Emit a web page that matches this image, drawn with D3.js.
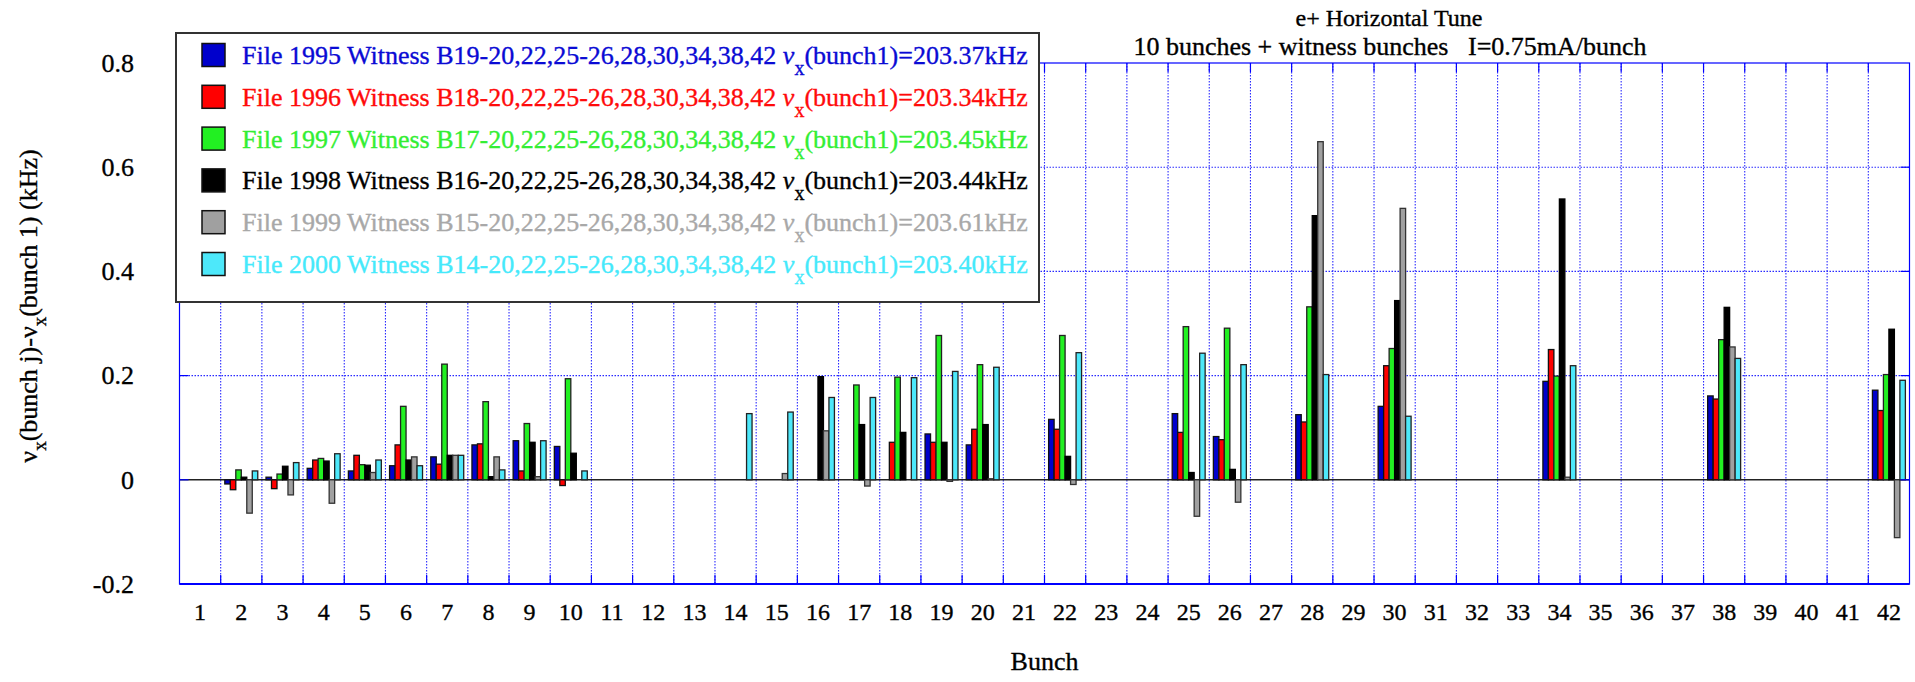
<!DOCTYPE html>
<html>
<head>
<meta charset="utf-8">
<script src="https://cdn.jsdelivr.net/npm/d3@7"></script>
<style>
  html, body { margin: 0; padding: 0; background: #fff; }
  svg { display: block; }
  text { font-family: "Liberation Serif", "Times New Roman", serif; stroke-width: 0.35px; paint-order: stroke; }
</style>
</head>
<body>
<svg id="chart" width="1915" height="682"></svg>
<script>
// Bunch numbers along the ring (bunch 1 is the reference bunch)
const bunches = d3.range(1, 43);

// Tune shift of each bunch relative to bunch 1 (kHz), one array per file; missing = not measured
const file1995 = {2:-0.008,3:0.005,4:0.022,5:0.017,6:0.027,7:0.044,8:0.067,9:0.075,10:0.064,
  19:0.088,20:0.067,22:0.116,25:0.127,26:0.083,28:0.125,30:0.141,34:0.189,38:0.161,42:0.172};
const file1996 = {2:-0.019,3:-0.017,4:0.038,5:0.047,6:0.067,7:0.030,8:0.069,9:0.017,10:-0.011,
  18:0.072,19:0.072,20:0.097,22:0.097,25:0.091,26:0.077,28:0.111,30:0.219,34:0.250,38:0.155,42:0.133};
const file1997 = {2:0.019,3:0.011,4:0.041,5:0.029,6:0.141,7:0.222,8:0.150,9:0.108,10:0.194,
  17:0.182,18:0.197,19:0.277,20:0.221,22:0.277,25:0.294,26:0.291,28:0.332,30:0.252,34:0.199,38:0.269,42:0.202};
const file1998 = {2:0.005,3:0.026,4:0.036,5:0.028,6:0.038,7:0.047,8:0.006,9:0.072,10:0.051,
  16:0.198,17:0.106,18:0.091,19:0.072,20:0.106,22:0.045,25:0.014,26:0.020,28:0.507,30:0.344,34:0.539,38:0.331,42:0.289};
const file1999 = {2:-0.064,3:-0.029,4:-0.045,5:0.014,6:0.044,7:0.047,8:0.044,9:0.006,10:0,
  15:0.012,16:0.094,17:-0.012,18:0,19:-0.003,20:0.002,22:-0.009,25:-0.070,26:-0.043,28:0.649,30:0.521,34:0.005,38:0.255,42:-0.111};
const file2000 = {2:0.017,3:0.033,4:0.050,5:0.038,6:0.027,7:0.047,8:0.019,9:0.075,10:0.017,
  14:0.127,15:0.130,16:0.158,17:0.158,18:0.196,19:0.208,20:0.216,22:0.244,25:0.243,26:0.221,28:0.202,30:0.122,34:0.219,38:0.233,42:0.191};

const seriesValues = [file1995, file1996, file1997, file1998, file1999, file2000];
const seriesLabels = [
  ["File 1995 Witness B19-20,22,25-26,28,30,34,38,42 ", "(bunch1)=203.37kHz"],
  ["File 1996 Witness B18-20,22,25-26,28,30,34,38,42 ", "(bunch1)=203.34kHz"],
  ["File 1997 Witness B17-20,22,25-26,28,30,34,38,42 ", "(bunch1)=203.45kHz"],
  ["File 1998 Witness B16-20,22,25-26,28,30,34,38,42 ", "(bunch1)=203.44kHz"],
  ["File 1999 Witness B15-20,22,25-26,28,30,34,38,42 ", "(bunch1)=203.61kHz"],
  ["File 2000 Witness B14-20,22,25-26,28,30,34,38,42 ", "(bunch1)=203.40kHz"]
];
const fillColors = ["#0000cc", "#ff0000", "#22f022", "#000000", "#a0a0a0", "#4de8fa"];
const textColors = ["#0a0ad4", "#ff0a0a", "#33ee33", "#000000", "#a8a8a8", "#45e9fb"];
const strokeColors = ["#111", "#111", "#222", "#000", "#333", "#222"];

const yTicks = [-0.2, 0, 0.2, 0.4, 0.6, 0.8];
const yTickLabels = ["-0.2", "0", "0.2", "0.4", "0.6", "0.8"];
const titleLines = ["e+ Horizontal Tune", "10 bunches + witness bunches   I=0.75mA/bunch"];

// Layout
const plot = { left: 179.5, right: 1909.5, top: 63, bottom: 584 };
const svg = d3.select("#chart");
const gridColor = "#2a2aff";
const axisColor = "#0000ff";

const x = d3.scaleBand().domain(bunches).range([plot.left, plot.right]).paddingInner(0).paddingOuter(0);
const y = d3.scaleLinear().domain([-0.2, 0.8]).range([plot.bottom, plot.top]);
const groupW = x.bandwidth() * 0.8;
const barW = groupW / seriesValues.length;
const groupOff = (x.bandwidth() - groupW) / 2;

// Grid: vertical dotted lines at bunch boundaries, horizontal at interior y ticks
const grid = svg.append("g");
grid.selectAll("line.vg").data(bunches.slice(1)).join("line")
  .attr("x1", d => x(d)).attr("x2", d => x(d))
  .attr("y1", plot.top).attr("y2", plot.bottom)
  .attr("stroke", gridColor).attr("stroke-width", 1.1).attr("stroke-dasharray", "1.5,1.5");
grid.selectAll("line.hg").data(yTicks.filter(v => v > -0.2 && v < 0.8 && v !== 0)).join("line")
  .attr("x1", plot.left).attr("x2", plot.right)
  .attr("y1", d => y(d)).attr("y2", d => y(d))
  .attr("stroke", gridColor).attr("stroke-width", 1.1).attr("stroke-dasharray", "1.5,1.5");

// Zero line
svg.append("line")
  .attr("x1", plot.left).attr("x2", plot.right)
  .attr("y1", y(0)).attr("y2", y(0))
  .attr("stroke", "#222").attr("stroke-width", 1.6);

// Bars
const bars = svg.append("g");
seriesValues.forEach((vals, k) => {
  const pts = bunches.filter(b => vals[b] !== undefined && vals[b] !== null && vals[b] !== 0)
    .map(b => ({ b, v: vals[b] }));
  bars.selectAll("rect.s" + k).data(pts).join("rect")
    .attr("x", d => x(d.b) + groupOff + k * barW)
    .attr("width", barW)
    .attr("y", d => Math.min(y(d.v), y(0)))
    .attr("height", d => Math.abs(y(d.v) - y(0)))
    .attr("fill", fillColors[k])
    .attr("stroke", strokeColors[k])
    .attr("stroke-width", 1.3);
});

// Frame and inward ticks
const frame = svg.append("g");
frame.append("rect")
  .attr("x", plot.left).attr("y", plot.top)
  .attr("width", plot.right - plot.left).attr("height", plot.bottom - plot.top)
  .attr("fill", "none").attr("stroke", axisColor).attr("stroke-width", 1.2);
frame.append("line")
  .attr("x1", plot.left).attr("x2", plot.right)
  .attr("y1", plot.bottom).attr("y2", plot.bottom)
  .attr("stroke", axisColor).attr("stroke-width", 2);
const tickLen = 9;
frame.selectAll("line.bt").data(bunches.slice(1)).join("line")
  .attr("x1", d => x(d)).attr("x2", d => x(d))
  .attr("y1", plot.bottom).attr("y2", plot.bottom - tickLen)
  .attr("stroke", axisColor).attr("stroke-width", 1.2);
frame.selectAll("line.tt").data(bunches.slice(1)).join("line")
  .attr("x1", d => x(d)).attr("x2", d => x(d))
  .attr("y1", plot.top).attr("y2", plot.top + tickLen)
  .attr("stroke", axisColor).attr("stroke-width", 1.2);
frame.selectAll("line.lt").data(yTicks.slice(1, -1)).join("line")
  .attr("x1", plot.left).attr("x2", plot.left + tickLen)
  .attr("y1", d => y(d)).attr("y2", d => y(d))
  .attr("stroke", axisColor).attr("stroke-width", 1.2);
frame.selectAll("line.rt").data(yTicks.slice(1, -1)).join("line")
  .attr("x1", plot.right).attr("x2", plot.right - tickLen)
  .attr("y1", d => y(d)).attr("y2", d => y(d))
  .attr("stroke", axisColor).attr("stroke-width", 1.2);

// Tick labels
svg.append("g").selectAll("text").data(yTicks).join("text")
  .attr("x", 134).attr("y", d => y(d)).attr("dy", "0.34em")
  .attr("text-anchor", "end").attr("font-size", 26).attr("fill", "#000").attr("stroke", "#000")
  .text((d, i) => yTickLabels[i]);
svg.append("g").selectAll("text").data(bunches).join("text")
  .attr("x", d => x(d) + x.bandwidth() / 2).attr("y", 620)
  .attr("text-anchor", "middle").attr("font-size", 24).attr("fill", "#000").attr("stroke", "#000")
  .text(d => d);

// Axis titles
svg.append("text").attr("x", (plot.left + plot.right) / 2).attr("y", 670)
  .attr("text-anchor", "middle").attr("font-size", 26).attr("stroke", "#000").text("Bunch");

const yl = svg.append("text")
  .attr("transform", "translate(37,306) rotate(-90)")
  .attr("text-anchor", "middle").attr("font-size", 26).attr("stroke", "#000");
yl.append("tspan").text("ν");
yl.append("tspan").attr("font-size", 19).attr("dy", 9).text("x");
yl.append("tspan").attr("dy", -9).text("(bunch j)-ν");
yl.append("tspan").attr("font-size", 19).attr("dy", 9).text("x");
yl.append("tspan").attr("dy", -9).text("(bunch 1) (kHz)");

// Title
svg.append("text").attr("x", 1389).attr("y", 26).attr("text-anchor", "middle")
  .attr("font-size", 24).attr("stroke", "#000").text(titleLines[0]);
svg.append("text").attr("x", 1390).attr("y", 55).attr("text-anchor", "middle")
  .attr("font-size", 26).attr("stroke", "#000").style("white-space", "pre").text(titleLines[1]);

// Legend
const lg = svg.append("g");
lg.append("rect").attr("x", 176).attr("y", 33).attr("width", 863).attr("height", 269)
  .attr("fill", "#fff").attr("stroke", "#333").attr("stroke-width", 2);
seriesLabels.forEach((lab, k) => {
  const cy = 55 + k * 41.8;
  lg.append("rect").attr("x", 202).attr("y", cy - 11.5).attr("width", 23).attr("height", 23)
    .attr("fill", fillColors[k]).attr("stroke", "#111").attr("stroke-width", 1.5);
  const t = lg.append("text").attr("x", 242).attr("y", cy + 9)
    .attr("font-size", 26).attr("fill", textColors[k]).attr("stroke", textColors[k])
    .style("white-space", "pre");
  t.append("tspan").text(lab[0]);
  t.append("tspan").attr("font-style", "italic").text("ν");
  t.append("tspan").attr("font-size", 20).attr("dy", 11).text("x");
  t.append("tspan").attr("dy", -11).text(lab[1]);
});
</script>
</body>
</html>
